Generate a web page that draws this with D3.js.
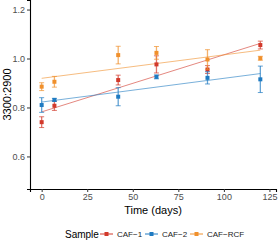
<!DOCTYPE html>
<html>
<head>
<meta charset="utf-8">
<script src="https://cdn.jsdelivr.net/npm/d3@7"></script>
<style>
  body { margin: 0; background: #fff; }
  svg { display: block; font-family: "Liberation Sans", Arial, sans-serif; }
</style>
</head>
<body>
<div id="plot"></div>
<script>
var days = [0, 7, 42, 63, 91, 120];
var samples = ["CAF\u22121", "CAF\u22122", "CAF\u2212RCF"];
var colors = ["#d2392b", "#1f7bc2", "#f0902c"];
var caf1 = [0.740, 0.807, 0.912, 0.976, 0.955, 1.055];
var caf1Err = [0.022, 0.019, 0.020, 0.035, 0.016, 0.016];
var caf2 = [0.810, 0.831, 0.844, 0.925, 0.921, 0.915];
var caf2Err = [0.030, 0.006, 0.037, 0.008, 0.025, 0.054];
var rcf = [0.885, 0.905, 1.014, 1.023, 0.996, 1.001];
var rcfErr = [0.016, 0.022, 0.036, 0.026, 0.040, 0.008];
var xTicks = [0, 25, 50, 75, 100, 125];
var yTicks = [0.6, 0.8, 1.0, 1.2];

var series = [
  {name: samples[0], values: caf1, err: caf1Err, color: colors[0]},
  {name: samples[1], values: caf2, err: caf2Err, color: colors[1]},
  {name: samples[2], values: rcf, err: rcfErr, color: colors[2]}
];

var W = 278, H = 241;
var margin = {top: 0, right: 2, bottom: 52, left: 30};
var width = W - margin.left - margin.right;
var height = H - margin.top - margin.bottom;

var svg = d3.select("#plot").append("svg")
  .attr("width", W)
  .attr("height", H);

var g = svg.append("g")
  .attr("transform", "translate(" + margin.left + "," + margin.top + ")");

var x = d3.scaleLinear().domain([-6.4, 128.6]).range([0, width]);
var y = d3.scaleLinear().domain([0.467, 1.239]).range([height, 0]);

// least squares fit for each sample
function fit(vals) {
  var mx = d3.mean(days), my = d3.mean(vals);
  var sxy = d3.sum(days, function(d, i) { return (d - mx) * (vals[i] - my); });
  var sxx = d3.sum(days, function(d) { return (d - mx) * (d - mx); });
  var b = sxy / sxx;
  return {a: my - b * mx, b: b};
}

series.forEach(function(s) {
  var f = fit(s.values);
  var x0 = d3.min(days), x1 = d3.max(days);
  g.append("line")
    .attr("x1", x(x0)).attr("x2", x(x1))
    .attr("y1", y(f.a + f.b * x0)).attr("y2", y(f.a + f.b * x1))
    .attr("stroke", s.color)
    .attr("stroke-opacity", 0.6)
    .attr("stroke-width", 1);
});

series.forEach(function(s) {
  var sg = g.append("g");
  var pts = days.map(function(d, i) { return {t: d, v: s.values[i], e: s.err[i]}; });

  sg.selectAll(".eb").data(pts).enter().append("line")
    .attr("x1", function(d) { return x(d.t); })
    .attr("x2", function(d) { return x(d.t); })
    .attr("y1", function(d) { return y(d.v - d.e); })
    .attr("y2", function(d) { return y(d.v + d.e); })
    .attr("stroke", s.color).attr("stroke-opacity", 0.7).attr("stroke-width", 1.3);

  [-1, 1].forEach(function(sign) {
    sg.selectAll(".cap").data(pts).enter().append("line")
      .attr("x1", function(d) { return x(d.t) - 2.5; })
      .attr("x2", function(d) { return x(d.t) + 2.5; })
      .attr("y1", function(d) { return y(d.v + sign * d.e); })
      .attr("y2", function(d) { return y(d.v + sign * d.e); })
      .attr("stroke", s.color).attr("stroke-opacity", 0.7).attr("stroke-width", 1);
  });

  sg.selectAll(".pt").data(pts).enter().append("rect")
    .attr("x", function(d) { return x(d.t) - 2; })
    .attr("y", function(d) { return y(d.v) - 2; })
    .attr("width", 4).attr("height", 4)
    .attr("fill", s.color);
});

// axes
var xAxis = g.append("g")
  .attr("transform", "translate(0," + height + ")")
  .call(d3.axisBottom(x).tickValues(xTicks).tickSize(3).tickPadding(2));
var yAxis = g.append("g")
  .call(d3.axisLeft(y).tickValues(yTicks).tickSize(3).tickPadding(2).tickFormat(d3.format(".1f")));

[xAxis, yAxis].forEach(function(a) {
  a.select(".domain").attr("stroke", "#000").attr("stroke-width", 1.1);
  a.selectAll(".tick line").attr("stroke", "#333");
  a.selectAll(".tick text").attr("fill", "#4d4d4d").style("font-size", "9px");
});

svg.append("text")
  .attr("x", margin.left + width / 2)
  .attr("y", 214)
  .attr("text-anchor", "middle")
  .style("font-size", "11px")
  .text("Time (days)");

svg.append("text")
  .attr("transform", "translate(11," + (height / 2) + ") rotate(-90)")
  .attr("text-anchor", "middle")
  .style("font-size", "11px")
  .text("3300:2900");

// legend
var leg = svg.append("g").attr("transform", "translate(0,234)");
leg.append("text").attr("x", 65).attr("y", 3.5)
  .style("font-size", "10px").text("Sample");
var legX = [100, 145, 190];
series.forEach(function(s, i) {
  var lx = legX[i];
  leg.append("line").attr("x1", lx).attr("x2", lx + 13).attr("y1", 0).attr("y2", 0)
    .attr("stroke", s.color).attr("stroke-width", 1);
  leg.append("rect").attr("x", lx + 4.5).attr("y", -2).attr("width", 4).attr("height", 4)
    .attr("fill", s.color);
  leg.append("text").attr("x", lx + 17).attr("y", 3)
    .style("font-size", "8px").attr("fill", "#222").text(s.name);
});
</script>
</body>
</html>
